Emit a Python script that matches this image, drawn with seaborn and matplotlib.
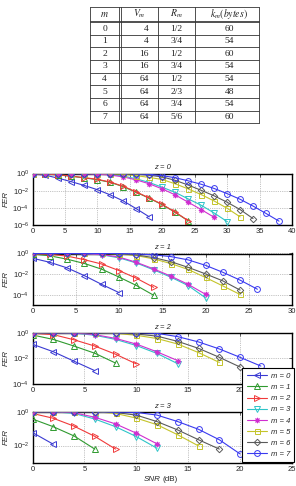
import matplotlib
matplotlib.use("Agg")
import matplotlib.pyplot as plt
from matplotlib.lines import Line2D
import pandas as pd
import seaborn as sns

sns.set_style("white")
plt.rcParams["font.family"] = ["Liberation Sans", "DejaVu Sans"]

# ---------------- table data ----------------
table_headers = [r"$m$", r"$V_m$", r"$R_m$", r"$k_m(bytes)$"]
table_m = ["0", "1", "2", "3", "4", "5", "6", "7"]
table_Vm = ["4", "4", "16", "16", "64", "64", "64", "64"]
table_Rm = ["1/2", "3/4", "1/2", "3/4", "1/2", "2/3", "3/4", "5/6"]
table_km = ["60", "54", "60", "54", "54", "48", "54", "60"]

# ---------------- curve data ----------------
snr_db = [0, 2, 4, 6, 8, 10, 12, 14, 16, 18, 20, 22, 24, 26, 28, 30, 32, 34, 36, 38]
legend_labels = ["m = 0", "m = 1", "m = 2", "m = 3", "m = 4", "m = 5", "m = 6", "m = 7"]
z_titles = ["z = 0", "z = 1", "z = 2", "z = 3"]

fer_z0 = [
    [0.89, 0.63, 0.28, 0.11, 4.0e-2, 1.3e-2, 3.2e-3, 6.3e-4, 7.9e-5, 8.9e-6],
    [0.93, 0.85, 0.68, 0.47, 0.31, 0.19, 9.3e-2, 2.9e-2, 6.5e-3, 1.3e-3, 2.3e-4, 3.0e-5, 3.0e-6],
    [0.95, 0.87, 0.71, 0.50, 0.33, 0.21, 0.10, 3.2e-2, 7.1e-3, 1.4e-3, 2.5e-4, 3.2e-5, 3.2e-6],
    [1, 1, 1, 0.99, 0.97, 0.89, 0.76, 0.50, 0.24, 8.9e-2, 2.5e-2, 6.3e-3, 1.1e-3, 2.0e-4, 2.5e-5, 2.5e-6],
    [1, 1, 1, 1, 0.93, 0.83, 0.66, 0.40, 0.18, 6.3e-2, 1.6e-2, 3.2e-3, 4.5e-4, 6.3e-5, 7.9e-6],
    [1, 1, 1, 1, 1, 1, 0.93, 0.79, 0.56, 0.35, 0.20, 6.3e-2, 1.6e-2, 3.5e-3, 6.3e-4, 8.9e-5, 8.9e-6],
    [1, 1, 1, 1, 1, 1, 1, 0.93, 0.83, 0.63, 0.40, 0.16, 4.5e-2, 1.1e-2, 2.5e-3, 4.5e-4, 6.3e-5, 5.6e-6],
    [1, 1, 1, 1, 1, 1, 1, 1, 0.93, 0.79, 0.56, 0.32, 0.14, 5.6e-2, 1.8e-2, 4.5e-3, 1.0e-3, 1.6e-4, 2.2e-5, 2.8e-6],
]
fer_z1 = [
    [0.35, 0.14, 4.0e-2, 7.1e-3, 1.0e-3, 1.6e-4],
    [0.89, 0.60, 0.28, 0.107, 3.0e-2, 5.2e-3, 7.9e-4, 8.9e-5],
    [0.95, 0.83, 0.56, 0.25, 9.5e-2, 2.2e-2, 4.0e-3, 5.2e-4],
    [1, 1, 1, 0.93, 0.74, 0.38, 0.12, 2.6e-2, 5.0e-3, 7.6e-4, 5.0e-5],
    [1, 1, 1, 0.95, 0.79, 0.45, 0.14, 3.2e-2, 6.3e-3, 1.0e-3, 1.1e-4],
    [1, 1, 1, 1, 1, 0.89, 0.63, 0.30, 0.105, 2.8e-2, 4.7e-3, 7.1e-4, 1.05e-4],
    [1, 1, 1, 1, 1, 0.93, 0.72, 0.40, 0.16, 4.5e-2, 1.05e-2, 2.2e-3, 2.8e-4],
    [1, 1, 1, 1, 1, 1, 0.91, 0.74, 0.50, 0.24, 7.1e-2, 1.5e-2, 2.6e-3, 3.4e-4],
]
fer_z2 = [
    [0.126, 3.3e-2, 6.0e-3, 1.1e-3],
    [0.66, 0.30, 9.1e-2, 2.5e-2, 4.3e-3],
    [0.89, 0.71, 0.28, 9.1e-2, 2.1e-2, 3.7e-3],
    [1, 1, 0.93, 0.63, 0.30, 0.10, 2.4e-2, 3.8e-3],
    [1, 1, 0.95, 0.71, 0.36, 0.13, 3.2e-2, 6.6e-3],
    [1, 1, 1, 1, 0.89, 0.63, 0.35, 0.13, 2.8e-2, 4.8e-3],
    [1, 1, 1, 1, 0.93, 0.79, 0.54, 0.21, 6.0e-2, 1.2e-2, 2.1e-3],
    [1, 1, 1, 1, 1, 1, 0.89, 0.49, 0.19, 5.4e-2, 1.2e-2, 2.5e-3],
]
fer_z3 = [
    [5.9e-2, 1.2e-2],
    [0.37, 0.13, 3.7e-2, 6.2e-3],
    [0.79, 0.41, 0.14, 3.5e-2, 6.2e-3],
    [1, 1, 0.79, 0.37, 0.13, 3.4e-2, 6.9e-3],
    [1, 1, 0.87, 0.47, 0.19, 5.4e-2, 1.26e-2],
    [1, 1, 1, 1, 0.79, 0.42, 0.17, 4.3e-2, 9.5e-3],
    [1, 1, 1, 1, 0.89, 0.63, 0.26, 8.3e-2, 2.2e-2, 6.2e-3],
    [1, 1, 1, 1, 0.95, 0.91, 0.63, 0.26, 9.1e-2, 2.2e-2, 3.2e-3],
]
all_fer = [fer_z0, fer_z1, fer_z2, fer_z3]

x_max = [40, 30, 25, 25]
y_min_exp = [-6, -5, -4, -3]
y_ticks = [[1, 1e-2, 1e-4, 1e-6], [1, 1e-2, 1e-4], [1, 1e-2, 1e-4], [1, 1e-2]]

colors = ["#3a3ad2", "#2f9a2f", "#f03a3a", "#2ec4c8", "#d02ed0", "#c4c42a", "#5a5a5a", "#3a3af0"]
markers = ["<", "^", ">", "v", (8, 2, 0), "s", "D", "o"]
msizes = [4.2, 4.2, 4.2, 4.2, 3.8, 3.6, 3.3, 4.2]

# ---------------- figure ----------------
W, H = 296, 486
fig = plt.figure(figsize=(W / 100, H / 100), dpi=100)
fig.patch.set_facecolor("white")


def fx(px):
    return px / W


def fy(py):
    return 1 - py / H


# ---- table ----
tbl_left, tbl_right = 89.7, 259.0
tbl_top = 7.3
hdr_bot1, hdr_bot2 = 20.7, 22.3
row_h = 12.6
n_rows = len(table_m)
tbl_bot = hdr_bot2 + row_h * n_rows
line_kw = dict(color="#333333", linewidth=0.6, transform=fig.transFigure)

for yy in [tbl_top, hdr_bot1, hdr_bot2] + [hdr_bot2 + row_h * (i + 1) for i in range(n_rows)]:
    fig.add_artist(Line2D([fx(tbl_left), fx(tbl_right)], [fy(yy), fy(yy)], **line_kw))
for xx in [tbl_left, 118.5, 120.8, 157.7, 195.3, tbl_right]:
    fig.add_artist(Line2D([fx(xx), fx(xx)], [fy(tbl_top), fy(tbl_bot)], **line_kw))

hdr_x = [104.1, 139.5, 176.5, 229.0]
for hx, htxt in zip(hdr_x, table_headers):
    fig.text(fx(hx), fy(14.0), htxt, ha="center", va="center", fontsize=7,
             math_fontfamily="stix", color="#222222")

serif = dict(family="Liberation Serif", fontsize=6.8, color="#222222", va="center")
for i in range(n_rows):
    yc = fy(hdr_bot2 + row_h * (i + 0.5))
    fig.text(fx(104.6), yc, table_m[i], ha="center", **serif)
    fig.text(fx(149.0), yc, table_Vm[i], ha="right", **serif)
    fig.text(fx(176.7), yc, table_Rm[i], ha="center", **serif)
    fig.text(fx(229.5), yc, table_km[i], ha="center", **serif)

# ---- subplots ----
ax_left, ax_right = 32.5, 292.0
ax_tops = [173.5, 253.5, 332.7, 411.7]
ax_bots = [225.0, 305.0, 384.0, 462.5]

axes = []
for k in range(4):
    ax = fig.add_axes([fx(ax_left), fy(ax_bots[k]), (ax_right - ax_left) / W,
                       (ax_bots[k] - ax_tops[k]) / H])
    ax.set_yscale("log")
    for m, fer in enumerate(all_fer[k]):
        df = pd.DataFrame({"snr": snr_db[:len(fer)], "fer": fer})
        sns.lineplot(data=df, x="snr", y="fer", ax=ax, color=colors[m],
                     marker=markers[m], markersize=msizes[m],
                     markerfacecolor="none", markeredgecolor=colors[m],
                     markeredgewidth=0.7, linewidth=0.8, legend=False,
                     errorbar=None, zorder=3)
    ax.set_xlim(0, x_max[k])
    ax.set_ylim(10.0 ** y_min_exp[k], 1)
    xt = list(range(0, x_max[k] + 1, 5))
    ax.set_xticks(xt)
    if k == 2:
        # the last label sits under the legend box in the reference
        ax.set_xticklabels([str(v) for v in xt[:-1]] + [""])
    ax.set_yticks(y_ticks[k])
    ax.minorticks_off()
    ax.grid(True, which="major", linestyle=":", linewidth=0.5, color="#8c8c8c")
    ax.tick_params(direction="in", length=2, width=0.5, labelsize=5.5, pad=2.5,
                   top=True, right=True)
    for sp in ax.spines.values():
        sp.set_linewidth(1.0)
        sp.set_color("black")
    ax.set_xlabel("")
    ax.set_ylabel("FER", fontsize=5.8, style="italic", labelpad=2)
    ax.set_title(z_titles[k], fontsize=5.5, style="italic", pad=3)
    axes.append(ax)

# x label of last subplot
fig.text(fx(160.5), fy(479.5), "SNR", ha="right", va="center", fontsize=5.8, style="italic")
fig.text(fx(162.5), fy(479.5), "(dB)", ha="left", va="center", fontsize=5.8)

# legend
handles = [Line2D([], [], color=colors[m], marker=markers[m], markersize=msizes[m],
                  markerfacecolor="none", markeredgecolor=colors[m],
                  markeredgewidth=0.7, linewidth=0.8) for m in range(8)]
leg = fig.legend(handles, legend_labels, loc="upper left",
                 bbox_to_anchor=(fx(242.3), fy(368.3)), frameon=True, fancybox=False,
                 edgecolor="black", facecolor="white", framealpha=1,
                 prop={"size": 5.5, "style": "italic"}, handlelength=2.7,
                 handletextpad=0.45, labelspacing=0.5, borderpad=0.55,
                 borderaxespad=0)
leg.get_frame().set_linewidth(0.8)

fig.savefig("out.png", dpi=100)
